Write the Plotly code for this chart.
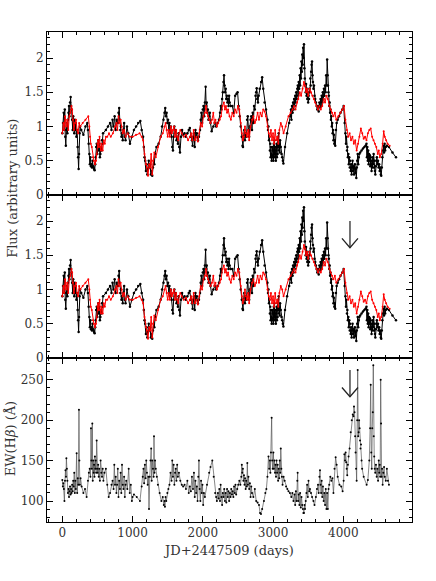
import plotly.graph_objects as go

# ---------------- data ----------------
# continuum flux (black): (JD-2447509, flux)
cont_points = [
    (0, .90), (10, 1.05), (20, 1.20), (28, .95), (35, 1.25), (42, .85), (50, .72), (58, .95),
    (65, 1.05), (72, .90), (80, 1.10), (88, 1.20), (95, 1.30), (102, 1.15), (110, 1.35),
    (118, 1.43), (125, 1.30), (132, 1.25), (140, 1.10), (148, .95), (155, 1.15), (162, 1.05),
    (170, .90), (178, 1.10), (185, .95), (192, 1.05), (200, .85), (210, .95), (218, .70),
    (225, .55), (232, .38), (238, .60), (245, .90), (252, 1.00), (270, .95), (300, .88),
    (330, 1.00), (356, 1.05), (365, .95), (375, .75), (385, .60), (392, .45), (400, .55),
    (408, .42), (415, .45), (422, .40), (430, .50), (438, .42), (445, .40), (452, .38),
    (460, .36), (468, .45), (475, .55), (482, .70), (490, .75), (498, .60), (505, .72),
    (512, .80), (520, .65), (528, .75), (535, .55), (542, .60), (550, .70), (558, .65),
    (565, .80), (572, .75), (580, .90), (620, .95), (650, 1.00), (680, 1.05), (700, .95),
    (715, 1.10), (730, 1.00), (745, 1.15), (760, .95), (775, 1.10), (790, 1.05), (800, 1.20),
    (810, 1.27), (818, 1.10), (826, .95), (834, 1.00), (842, .85), (850, .90), (860, .80),
    (870, .95), (880, 1.05), (890, .85), (900, .80), (920, 1.00), (940, .90), (963, .75),
    (990, .85), (1020, .95), (1050, 1.00), (1080, 1.05), (1110, 1.08), (1130, .95),
    (1150, .85), (1160, .70), (1170, .55), (1180, .50), (1190, .35), (1200, .45), (1210, .30),
    (1220, .38), (1230, .50), (1240, .40), (1250, .45), (1260, .30), (1270, .35), (1280, .28),
    (1290, .40), (1300, .50), (1310, .45), (1320, .60), (1340, .70), (1370, .75), (1400, .85),
    (1420, 1.00), (1440, 1.10), (1455, 1.20), (1465, 1.27), (1475, 1.15), (1485, 1.20),
    (1495, 1.05), (1505, 1.10), (1515, .95), (1525, 1.05), (1535, .90), (1545, 1.00),
    (1555, .85), (1565, .70), (1575, .65), (1585, .85), (1595, 1.00), (1605, .90), (1615, .95),
    (1625, .80), (1635, .85), (1645, .75), (1655, .90), (1665, .70), (1675, .62), (1690, .85),
    (1705, .95), (1720, .88), (1740, .90), (1760, .85), (1780, .90), (1800, .95), (1815, .98),
    (1830, .85), (1845, .80), (1855, .72), (1865, .85), (1875, .90), (1885, .70), (1895, .95),
    (1905, .85), (1915, .90), (1930, .80), (1945, .85), (1960, .95), (1970, 1.10), (1980, 1.20),
    (1990, 1.05), (2000, 1.25), (2010, 1.30), (2020, 1.15), (2030, 1.35), (2040, 1.58),
    (2048, 1.30), (2056, 1.35), (2064, 1.20), (2072, 1.25), (2080, 1.10), (2090, 1.15),
    (2100, 1.20), (2110, 1.05), (2126, .93), (2150, 1.00), (2170, 1.05), (2190, 1.00),
    (2210, 1.05), (2230, 1.10), (2245, 1.20), (2255, 1.30), (2265, 1.25), (2275, 1.40),
    (2285, 1.50), (2295, 1.65), (2302, 1.75), (2310, 1.60), (2318, 1.50), (2326, 1.55),
    (2334, 1.40), (2342, 1.45), (2350, 1.35), (2358, 1.40), (2366, 1.30), (2374, 1.45),
    (2382, 1.35), (2395, 1.30), (2420, 1.30), (2440, 1.20), (2460, 1.45), (2480, 1.48),
    (2495, 1.50), (2510, 1.30), (2525, 1.15), (2540, 1.00), (2555, .85), (2565, .72),
    (2572, .70), (2580, .85), (2590, .95), (2600, .80), (2610, .90), (2620, .85), (2630, 1.10),
    (2640, 1.15), (2650, .95), (2660, .85), (2670, 1.00), (2680, 1.10), (2690, 1.15),
    (2700, .95), (2710, 1.20), (2720, 1.05), (2730, 1.30), (2740, 1.25), (2750, 1.45),
    (2760, 1.50), (2767, 1.56), (2775, 1.40), (2785, 1.35), (2795, 1.45), (2810, 1.55),
    (2830, 1.65), (2845, 1.72), (2860, 1.55), (2880, 1.35), (2900, 1.25), (2920, 1.10),
    (2928, .95), (2935, 1.00), (2942, .80), (2948, .85), (2955, .65), (2960, .75), (2965, .55),
    (2970, .70), (2975, .60), (2980, .50), (2985, .58), (2990, .70), (2995, .55), (3000, .65),
    (3005, .50), (3010, .75), (3015, .60), (3020, .80), (3025, .55), (3030, .70), (3035, .60),
    (3040, .50), (3045, .65), (3050, .75), (3055, .55), (3060, .70), (3065, .60), (3070, .85),
    (3075, .70), (3080, .90), (3085, .65), (3090, .75), (3095, .62), (3100, .80), (3110, .70),
    (3120, .60), (3130, .55), (3140, .50), (3147, .46), (3170, .70), (3200, .90), (3230, 1.05),
    (3245, 1.15), (3255, 1.25), (3262, 1.10), (3270, 1.30), (3278, 1.20), (3285, 1.35),
    (3292, 1.25), (3300, 1.40), (3308, 1.30), (3315, 1.45), (3322, 1.35), (3330, 1.50),
    (3338, 1.40), (3345, 1.55), (3352, 1.60), (3358, 1.45), (3365, 1.65), (3372, 1.55),
    (3380, 1.75), (3386, 1.60), (3392, 1.85), (3398, 1.70), (3404, 1.95), (3410, 1.80),
    (3416, 2.05), (3422, 1.90), (3428, 2.15), (3434, 2.00), (3440, 2.20), (3446, 1.85),
    (3452, 1.70), (3458, 1.60), (3464, 1.50), (3470, 1.62), (3476, 1.45), (3482, 1.55),
    (3488, 1.40), (3494, 1.50), (3500, 1.35), (3506, 1.45), (3512, 1.40), (3518, 1.55),
    (3524, 1.50), (3530, 1.70), (3536, 1.60), (3542, 1.80), (3548, 1.90), (3555, 1.95),
    (3562, 1.75), (3568, 1.65), (3575, 1.55), (3582, 1.60), (3590, 1.45), (3600, 1.40),
    (3610, 1.35), (3620, 1.30), (3630, 1.25), (3640, 1.30), (3650, 1.22), (3660, 1.35),
    (3668, 1.28), (3676, 1.40), (3684, 1.30), (3692, 1.45), (3700, 1.35), (3708, 1.50),
    (3716, 1.40), (3724, 1.55), (3732, 1.45), (3740, 1.60), (3748, 1.50), (3756, 1.75),
    (3764, 1.60), (3770, 1.98), (3776, 1.75), (3782, 1.60), (3788, 1.50), (3794, 1.45),
    (3800, 1.30), (3806, 1.35), (3812, 1.20), (3818, 1.25), (3824, 1.10), (3830, 1.15),
    (3836, 1.00), (3842, 1.05), (3848, .90), (3854, .95), (3860, .80), (3866, .88), (3872, .75),
    (3878, .80), (3885, .72), (3895, .95), (3905, 1.05), (3920, 1.10), (3940, 1.15),
    (3960, 1.20), (3985, 1.25), (4005, 1.30), (4020, 1.05), (4030, .90), (4038, .75),
    (4045, .85), (4052, .65), (4058, .70), (4065, .55), (4072, .60), (4078, .45), (4085, .55),
    (4092, .40), (4098, .50), (4105, .35), (4112, .45), (4118, .30), (4125, .40), (4132, .50),
    (4138, .35), (4145, .42), (4152, .30), (4158, .40), (4165, .45), (4172, .32), (4178, .38),
    (4185, .25), (4192, .40), (4198, .50), (4205, .60), (4212, .45), (4220, .55), (4228, .60),
    (4240, .62), (4260, .65), (4280, .68), (4300, .70), (4318, .72), (4330, .75), (4336, .55),
    (4342, .70), (4348, .50), (4354, .65), (4360, .45), (4366, .60), (4372, .50), (4378, .58),
    (4384, .42), (4390, .55), (4396, .45), (4402, .35), (4408, .50), (4414, .40), (4420, .55),
    (4426, .45), (4432, .60), (4438, .40), (4444, .50), (4450, .35), (4456, .30), (4462, .42),
    (4470, .50), (4478, .55), (4486, .45), (4494, .50), (4502, .40), (4510, .45), (4518, .35),
    (4526, .40), (4534, .30), (4540, .28), (4548, .40), (4556, .55), (4564, .65), (4572, .72),
    (4580, .62), (4588, .75), (4596, .65), (4604, .70), (4620, .72), (4650, .70), (4700, .62),
    (4750, .55),
]

# H-beta line flux (red): (JD-2447509, flux)
line_points = [
    (0, .90), (15, 1.05), (25, .95), (40, 1.15), (55, 1.00), (70, 1.10), (85, .95), (100, 1.15),
    (115, 1.20), (130, 1.30), (140, 1.25), (150, 1.10), (165, .95), (180, 1.05), (195, 1.10),
    (210, .95), (225, .90), (240, 1.05), (255, 1.00), (290, 1.05), (330, 1.10), (370, 1.15),
    (385, 1.00), (395, .85), (405, .75), (420, .70), (435, .55), (450, .50), (465, .45),
    (480, .50), (490, .60), (500, .75), (510, .80), (520, .70), (530, .85), (540, .70),
    (550, .65), (560, .75), (575, .65), (590, .80), (605, .75), (620, .85), (640, .85),
    (665, .90), (690, .85), (720, .90), (750, 1.00), (770, 1.05), (785, .95), (800, 1.15),
    (815, 1.05), (830, 1.10), (845, 1.00), (860, .90), (880, .95), (900, .85), (930, .90),
    (960, .85), (1000, .85), (1050, .88), (1100, .90), (1130, .85), (1150, .80), (1170, .60),
    (1190, .45), (1205, .40), (1220, .28), (1235, .45), (1250, .40), (1265, .60), (1280, .30),
    (1295, .50), (1310, .62), (1330, .55), (1360, .70), (1400, .85), (1430, .90), (1455, 1.00),
    (1470, 1.05), (1485, .95), (1500, .85), (1515, .95), (1530, .85), (1545, 1.00), (1560, .90),
    (1575, .95), (1590, 1.00), (1605, .85), (1620, .95), (1635, .85), (1650, .80), (1665, .90),
    (1680, .95), (1700, .90), (1730, .85), (1760, .88), (1790, .80), (1815, .85), (1835, .90),
    (1850, .80), (1870, .95), (1890, .80), (1910, .85), (1930, .78), (1950, .90), (1970, 1.05),
    (1990, 1.00), (2010, 1.15), (2030, 1.20), (2045, 1.30), (2060, 1.20), (2075, 1.15),
    (2090, 1.10), (2110, 1.05), (2130, 1.10), (2150, 1.20), (2165, 1.05), (2180, 1.10),
    (2200, 1.00), (2220, 1.05), (2240, 1.10), (2260, 1.15), (2280, 1.30), (2300, 1.35),
    (2315, 1.25), (2330, 1.30), (2345, 1.20), (2360, 1.25), (2380, 1.15), (2400, 1.10),
    (2420, 1.20), (2440, 1.15), (2460, 1.25), (2480, 1.20), (2500, 1.30), (2520, 1.25),
    (2540, 1.05), (2555, .90), (2570, .80), (2585, .85), (2600, 1.00), (2615, .90), (2630, .85),
    (2645, .95), (2660, .80), (2680, 1.00), (2700, 1.10), (2720, 1.15), (2740, 1.05),
    (2760, 1.10), (2780, 1.20), (2800, 1.10), (2820, 1.20), (2840, 1.15), (2860, 1.25),
    (2880, 1.22), (2900, 1.15), (2920, 1.00), (2940, .90), (2955, .85), (2970, .95), (2985, .80),
    (3000, .90), (3015, .75), (3030, .95), (3045, .80), (3060, .85), (3075, .75), (3090, .95),
    (3110, 1.05), (3130, 1.00), (3150, .90), (3180, 1.00), (3220, 1.15), (3250, 1.20),
    (3280, 1.25), (3300, 1.30), (3320, 1.25), (3340, 1.35), (3360, 1.40), (3380, 1.50),
    (3400, 1.45), (3420, 1.55), (3440, 1.65), (3455, 1.60), (3470, 1.50), (3485, 1.55),
    (3500, 1.45), (3520, 1.55), (3540, 1.50), (3560, 1.45), (3580, 1.40), (3600, 1.35),
    (3620, 1.30), (3640, 1.25), (3660, 1.30), (3680, 1.25), (3700, 1.30), (3720, 1.40),
    (3740, 1.35), (3760, 1.45), (3780, 1.40), (3800, 1.30), (3820, 1.25), (3840, 1.20),
    (3860, 1.15), (3880, 1.20), (3900, 1.10), (3930, 1.15), (3960, 1.20), (3990, 1.25),
    (4010, 1.30), (4030, 1.10), (4050, .95), (4070, .85), (4090, .90), (4110, .80), (4130, .85),
    (4150, .75), (4170, .80), (4190, .65), (4210, .75), (4230, .85), (4250, .97), (4270, .90),
    (4290, .82), (4310, .85), (4330, .80), (4350, .90), (4370, .95), (4390, .97), (4410, .85),
    (4430, .80), (4450, .75), (4470, .70), (4490, .60), (4505, .65), (4520, .55), (4540, .60),
    (4560, .75), (4575, .93), (4590, .85), (4610, .80), (4630, .75), (4660, .72),
]

# equivalent width of H-beta (Angstrom): (JD-2447509, EW)
ew_points = [
    (0, 126), (8, 118), (15, 122), (22, 115), (30, 100), (38, 125), (45, 138), (52, 130),
    (58, 153), (65, 140), (72, 125), (80, 110), (88, 115), (95, 105), (102, 112), (110, 118),
    (118, 108), (125, 115), (132, 110), (140, 120), (148, 112), (155, 125), (162, 118),
    (170, 135), (178, 110), (185, 125), (192, 115), (204, 159), (212, 110), (220, 128),
    (228, 120), (237, 213), (243, 150), (250, 120), (260, 128), (275, 118), (300, 110),
    (323, 115), (346, 105), (365, 125), (378, 135), (390, 140), (400, 130), (408, 190),
    (414, 150), (420, 140), (427, 196), (433, 125), (440, 150), (446, 135), (452, 145),
    (458, 130), (464, 155), (470, 140), (476, 150), (482, 135), (489, 175), (495, 140),
    (502, 135), (510, 145), (518, 130), (525, 140), (535, 125), (545, 150), (555, 135),
    (565, 130), (575, 140), (585, 125), (600, 135), (620, 140), (640, 120), (660, 105),
    (680, 110), (700, 120), (715, 125), (730, 115), (740, 145), (750, 120), (760, 130),
    (770, 110), (780, 120), (790, 140), (800, 105), (810, 125), (820, 115), (830, 135),
    (840, 110), (850, 145), (860, 120), (870, 115), (880, 130), (890, 105), (900, 120),
    (910, 125), (925, 115), (945, 140), (960, 110), (975, 120), (990, 100), (1000, 105),
    (1020, 108), (1060, 105), (1105, 100), (1130, 118), (1145, 130), (1155, 140), (1165, 122),
    (1175, 145), (1185, 128), (1195, 150), (1205, 135), (1215, 120), (1225, 130), (1234, 90),
    (1245, 130), (1255, 150), (1265, 165), (1272, 125), (1280, 150), (1290, 140), (1300, 130),
    (1305, 180), (1312, 135), (1320, 150), (1330, 140), (1345, 130), (1360, 120), (1385, 110),
    (1410, 100), (1430, 105), (1445, 95), (1455, 100), (1461, 93), (1470, 105), (1480, 100),
    (1495, 110), (1510, 115), (1525, 120), (1540, 135), (1555, 125), (1565, 150), (1575, 130),
    (1585, 145), (1595, 120), (1605, 135), (1615, 140), (1625, 125), (1635, 145), (1645, 130),
    (1660, 135), (1680, 125), (1700, 120), (1720, 118), (1740, 120), (1760, 115), (1780, 125),
    (1800, 110), (1815, 118), (1830, 112), (1845, 130), (1860, 115), (1874, 135), (1885, 105),
    (1895, 125), (1905, 110), (1915, 118), (1925, 100), (1935, 130), (1945, 150), (1955, 115),
    (1965, 100), (1975, 125), (1985, 110), (1995, 120), (2005, 95), (2015, 110), (2030, 105),
    (2060, 120), (2090, 135), (2110, 142), (2135, 150), (2155, 130), (2175, 110), (2190, 105),
    (2200, 100), (2215, 110), (2225, 103), (2235, 115), (2245, 100), (2254, 120), (2265, 105),
    (2275, 95), (2285, 110), (2295, 105), (2305, 115), (2315, 100), (2325, 110), (2335, 98),
    (2345, 115), (2355, 105), (2365, 112), (2375, 100), (2385, 110), (2395, 105), (2405, 115),
    (2415, 108), (2425, 112), (2435, 105), (2445, 118), (2455, 110), (2465, 120), (2475, 108),
    (2490, 115), (2505, 120), (2520, 125), (2535, 120), (2548, 130), (2555, 145), (2562, 135),
    (2570, 140), (2578, 125), (2586, 132), (2594, 120), (2602, 128), (2610, 115), (2618, 125),
    (2626, 118), (2634, 147), (2642, 120), (2650, 130), (2660, 115), (2670, 122), (2680, 105),
    (2690, 118), (2700, 110), (2720, 105), (2740, 115), (2760, 100), (2780, 98), (2800, 95),
    (2815, 85), (2828, 84), (2845, 90), (2870, 100), (2890, 110), (2905, 115), (2920, 130),
    (2935, 155), (2945, 140), (2955, 150), (2962, 135), (2970, 160), (2980, 203), (2988, 150),
    (2995, 140), (3005, 160), (3012, 140), (3020, 150), (3028, 135), (3035, 145), (3042, 130),
    (3050, 150), (3058, 135), (3065, 145), (3072, 125), (3080, 140), (3088, 128), (3095, 150),
    (3102, 135), (3110, 165), (3118, 140), (3126, 130), (3135, 120), (3150, 130), (3165, 125),
    (3185, 118), (3203, 115), (3220, 112), (3240, 110), (3260, 105), (3275, 110), (3290, 100),
    (3305, 108), (3315, 95), (3325, 112), (3335, 100), (3345, 125), (3350, 135), (3358, 100),
    (3366, 108), (3375, 95), (3385, 110), (3395, 92), (3405, 105), (3415, 95), (3425, 90),
    (3432, 85), (3440, 85), (3448, 95), (3455, 90), (3465, 100), (3475, 110), (3485, 120),
    (3495, 105), (3505, 125), (3515, 112), (3525, 115), (3540, 110), (3555, 105), (3575, 100),
    (3590, 95), (3610, 105), (3625, 115), (3640, 120), (3650, 110), (3660, 130), (3668, 138),
    (3676, 120), (3684, 110), (3692, 125), (3700, 105), (3710, 118), (3720, 100), (3730, 110),
    (3740, 95), (3750, 115), (3760, 90), (3770, 110), (3780, 90), (3790, 115), (3800, 120),
    (3815, 130), (3830, 125), (3845, 128), (3860, 110), (3875, 140), (3891, 154), (3905, 145),
    (3920, 130), (3945, 120), (3970, 118), (3990, 112), (4005, 125), (4015, 158), (4025, 150),
    (4033, 160), (4041, 148), (4048, 140), (4056, 132), (4065, 145), (4075, 155), (4090, 165),
    (4105, 185), (4120, 200), (4135, 207), (4145, 205), (4152, 217), (4160, 210), (4168, 180),
    (4175, 160), (4182, 140), (4190, 125), (4198, 200), (4205, 262), (4212, 180), (4218, 185),
    (4225, 200), (4232, 190), (4238, 175), (4245, 165), (4252, 170), (4260, 150), (4268, 140),
    (4290, 130), (4332, 120), (4350, 126), (4370, 150), (4382, 190), (4390, 244), (4398, 160),
    (4405, 140), (4412, 190), (4420, 210), (4427, 268), (4433, 180), (4440, 155), (4447, 140),
    (4455, 135), (4465, 145), (4475, 130), (4485, 140), (4495, 125), (4505, 150), (4512, 135),
    (4518, 145), (4525, 130), (4532, 250), (4538, 196), (4545, 130), (4552, 140), (4560, 120),
    (4570, 135), (4580, 142), (4590, 130), (4605, 125), (4620, 140), (4635, 125), (4650, 120),
]

flux_ticks = [0, 0.5, 1, 1.5, 2]
flux_ticktext = ["0", "0.5", "1", "1.5", "2"]
ew_ticks = [100, 150, 200, 250]
jd_ticks = [0, 1000, 2000, 3000, 4000]

# arrows marking the epoch (JD offset, tail/tip values)
arrow_jd = 4095
arrow_flux = [2.0, 1.61]
arrow_ew = [262, 229]

cont_jd = [p[0] for p in cont_points]
cont_flux = [p[1] for p in cont_points]
line_jd = [p[0] for p in line_points]
line_flux = [p[1] for p in line_points]
ew_jd = [p[0] for p in ew_points]
ew_val = [p[1] for p in ew_points]

# ---------------- figure ----------------
FONT = "DejaVu Serif"
TXT = "#333333"

fig = go.Figure()
for xa, ya in (("x", "y"), ("x2", "y2")):
    fig.add_trace(go.Scatter(x=cont_jd, y=cont_flux, xaxis=xa, yaxis=ya, mode="lines+markers",
                             line=dict(color="black", width=1),
                             marker=dict(size=2.5, color="black"),
                             showlegend=False, hoverinfo="skip"))
    fig.add_trace(go.Scatter(x=line_jd, y=line_flux, xaxis=xa, yaxis=ya, mode="lines+markers",
                             line=dict(color="red", width=1),
                             marker=dict(size=2, color="red"),
                             showlegend=False, hoverinfo="skip"))
fig.add_trace(go.Scatter(x=ew_jd, y=ew_val, xaxis="x3", yaxis="y3", mode="lines+markers",
                         line=dict(color="#555555", width=0.7),
                         marker=dict(size=2, color="black"),
                         showlegend=False, hoverinfo="skip"))

xrange_ = [-218, 4978]
d3 = 164 / 490
d2 = 327 / 490


def xax(anchor, labels):
    return dict(range=xrange_, anchor=anchor, showgrid=False, zeroline=False,
                showline=True, linecolor="black", linewidth=1, mirror="allticks",
                ticks="inside", ticklen=6, tickwidth=1, tickcolor="black",
                tickvals=jd_ticks, showticklabels=labels,
                tickfont=dict(family=FONT, size=12, color=TXT),
                minor=dict(dtick=200, tick0=0, ticks="inside", ticklen=3,
                           tickcolor="black", showgrid=False))


def yax(anchor, dom, rng, tv, minor_dt):
    return dict(range=rng, domain=dom, anchor=anchor, showgrid=False, zeroline=False,
                showline=True, linecolor="black", linewidth=1, mirror="allticks",
                ticks="inside", ticklen=6, tickwidth=1, tickcolor="black",
                tickvals=tv, tickfont=dict(family=FONT, size=12, color=TXT),
                minor=dict(dtick=minor_dt, tick0=0, ticks="inside", ticklen=3,
                           tickcolor="black", showgrid=False))


fig.update_layout(
    width=436, height=581,
    margin=dict(l=47, r=24, t=32, b=59),
    paper_bgcolor="white", plot_bgcolor="white",
    xaxis=xax("y", False),
    xaxis2=xax("y2", False),
    xaxis3=xax("y3", True),
    yaxis=yax("x", [d2, 1], [0, 2.38], flux_ticks, 0.1),
    yaxis2=yax("x2", [d3, d2], [0, 2.38], flux_ticks, 0.1),
    yaxis3=yax("x3", [0, d3], [74, 277], ew_ticks, 10),
)
fig.layout.yaxis.ticktext = flux_ticktext
fig.layout.yaxis2.ticktext = flux_ticktext

annots = [
    dict(text="Flux (arbitrary units)", xref="paper", yref="paper", x=-0.093, y=0.68,
         textangle=-90, showarrow=False, xanchor="center", yanchor="middle",
         font=dict(family=FONT, size=13, color=TXT)),
    dict(text="EW(H<i>\u03b2</i>) (\u00c5)", xref="paper", yref="paper", x=-0.101, y=0.171,
         textangle=-90, showarrow=False, xanchor="center", yanchor="middle",
         font=dict(family=FONT, size=13, color=TXT)),
    dict(text="JD+2447509 (days)", xref="paper", yref="paper", x=0.496, y=-0.059,
         showarrow=False, xanchor="center", yanchor="middle",
         font=dict(family=FONT, size=13, color=TXT)),
]
fig.update_layout(annotations=annots)

# arrows: shaft + open V head, in data coordinates
arm_dx = 114  # ~8 px in JD units
shapes = []
for xr, yr, (y0, y1), arm_dy in (("x2", "y2", arrow_flux, 0.136), ("x3", "y3", arrow_ew, 11.5)):
    shapes.append(dict(type="line", xref=xr, yref=yr, x0=arrow_jd, x1=arrow_jd, y0=y0, y1=y1,
                       line=dict(color="#555555", width=1.6)))
    shapes.append(dict(type="path", xref=xr, yref=yr,
                       path=f"M {arrow_jd - arm_dx},{y1 + arm_dy} L {arrow_jd},{y1} L {arrow_jd + arm_dx},{y1 + arm_dy}",
                       line=dict(color="#222222", width=1.3)))
fig.update_layout(shapes=shapes)

# remove the default page margin so the 436x581 figure fills the window exactly
fig.write_html("out.html",
               config={"displayModeBar": False, "staticPlot": True},
               post_script="document.body.style.margin='0';document.body.style.overflow='hidden';")
